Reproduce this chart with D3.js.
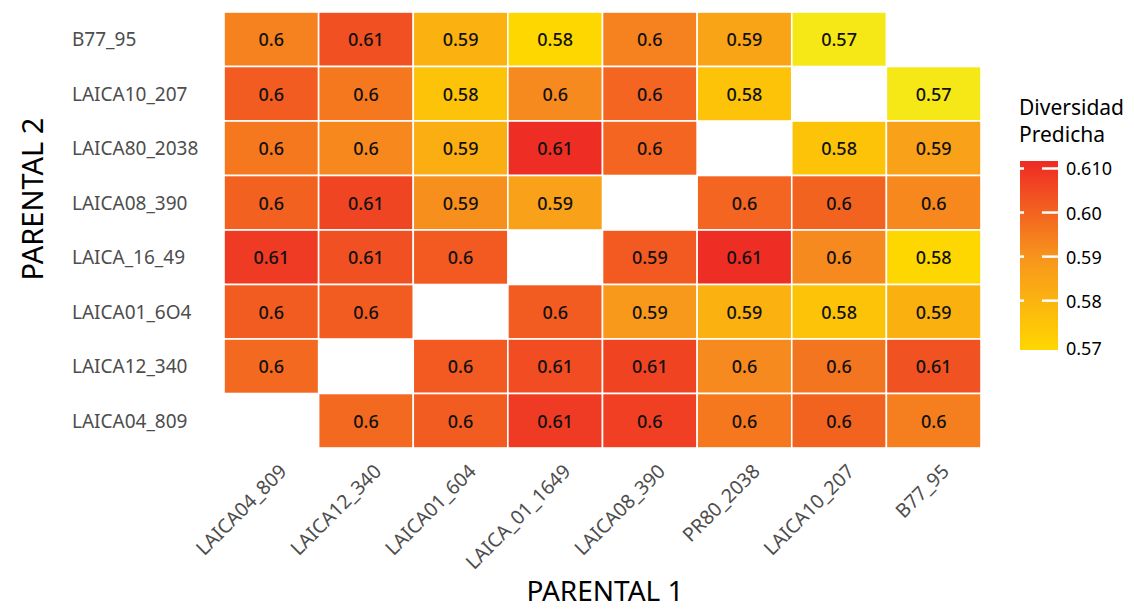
<!DOCTYPE html>
<html>
<head>
<meta charset="utf-8">
<script src="https://cdn.jsdelivr.net/npm/d3@7"></script>
<style>
  body { margin: 0; background: #fff; }
  svg { font-family: "Noto Sans", sans-serif; }
</style>
</head>
<body>
<svg id="chart" width="1134" height="609"></svg>
<script>
// rows (PARENTAL 2), top to bottom
const filas = ["B77_95", "LAICA10_207", "LAICA80_2038", "LAICA08_390",
  "LAICA_16_49", "LAICA01_6O4", "LAICA12_340", "LAICA04_809"];
// columns (PARENTAL 1), left to right
const columnas = ["LAICA04_809", "LAICA12_340", "LAICA01_604", "LAICA_01_1649",
  "LAICA08_390", "PR80_2038", "LAICA10_207", "B77_95"];

// printed labels, null = no tile
const etiquetas = [
  [0.6, 0.61, 0.59, 0.58, 0.6, 0.59, 0.57, null],
  [0.6, 0.6, 0.58, 0.6, 0.6, 0.58, null, 0.57],
  [0.6, 0.6, 0.59, 0.61, 0.6, null, 0.58, 0.59],
  [0.6, 0.61, 0.59, 0.59, null, 0.6, 0.6, 0.6],
  [0.61, 0.61, 0.6, null, 0.59, 0.61, 0.6, 0.58],
  [0.6, 0.6, null, 0.6, 0.59, 0.59, 0.58, 0.59],
  [0.6, null, 0.6, 0.61, 0.61, 0.6, 0.6, 0.61],
  [null, 0.6, 0.6, 0.61, 0.6, 0.6, 0.6, 0.6]
];

// fill values estimated from the tile colours
const relleno = [
  [0.5937, 0.6040, 0.5804, 0.5688, 0.5937, 0.5851, 0.5660, null],
  [0.6014, 0.5958, 0.5752, 0.5920, 0.5997, 0.5752, null, 0.5660],
  [0.5958, 0.5924, 0.5817, 0.6108, 0.5997, null, 0.5752, 0.5860],
  [0.6005, 0.6061, 0.5911, 0.5860, null, 0.5997, 0.6001, 0.5924],
  [0.6083, 0.6040, 0.6018, null, 0.6018, 0.6108, 0.5920, 0.5688],
  [0.6014, 0.6014, null, 0.6014, 0.5885, 0.5804, 0.5752, 0.5808],
  [0.5988, null, 0.6018, 0.6048, 0.6066, 0.5920, 0.5963, 0.6035],
  [null, 0.5988, 0.6014, 0.6083, 0.6074, 0.5958, 0.6001, 0.5945]
];

const limites = [0.5688, 0.6117];
const marcasLeyenda = [0.61, 0.60, 0.59, 0.58, 0.57];
const textosLeyenda = ["0.610", "0.60", "0.59", "0.58", "0.57"];

const svg = d3.select("#chart");

const x = d3.scaleBand().domain(columnas).range([224, 981]).padding(0);
const y = d3.scaleBand().domain(filas).range([12, 448]).padding(0);

const color = d3.scaleLinear()
  .domain([limites[0], 0.59, limites[1]])
  .range(["#FFD700", "#F7941D", "#EE2A24"])
  .interpolate(d3.interpolateRgb);
const naColor = "#F6E816"; // values under the lower limit

function fillFor(v) {
  return v < limites[0] ? naColor : color(v);
}

// flatten to tiles
const tiles = [];
filas.forEach((f, i) => {
  columnas.forEach((c, j) => {
    if (etiquetas[i][j] !== null) {
      tiles.push({ fila: f, col: c, label: etiquetas[i][j], v: relleno[i][j] });
    }
  });
});

const g = svg.append("g");

g.selectAll("rect.tile")
  .data(tiles)
  .enter().append("rect")
  .attr("class", "tile")
  .attr("x", d => x(d.col))
  .attr("y", d => y(d.fila))
  .attr("width", x.bandwidth())
  .attr("height", y.bandwidth())
  .style("fill", d => fillFor(d.v))
  .style("stroke", "#fff")
  .style("stroke-width", 1.6);

g.selectAll("text.val")
  .data(tiles)
  .enter().append("text")
  .attr("class", "val")
  .attr("x", d => x(d.col) + x.bandwidth() / 2)
  .attr("y", d => y(d.fila) + y.bandwidth() / 2)
  .attr("text-anchor", "middle")
  .attr("dominant-baseline", "central")
  .style("font-size", "18px")
  .style("font-weight", 500)
  .style("fill", "#111")
  .text(d => String(d.label));

// y labels, left aligned
svg.append("g").selectAll("text")
  .data(filas)
  .enter().append("text")
  .attr("x", 72)
  .attr("y", d => y(d) + y.bandwidth() / 2)
  .attr("dominant-baseline", "central")
  .style("font-size", "19px")
  .style("fill", "#4D4D4D")
  .text(d => d);

// x labels, rotated 45
svg.append("g").selectAll("text")
  .data(columnas)
  .enter().append("text")
  .attr("transform", d => `translate(${x(d) + x.bandwidth() / 2 + 7},${463}) rotate(-45)`)
  .attr("text-anchor", "end")
  .attr("dy", "0.7em")
  .style("font-size", "19.5px")
  .style("fill", "#4D4D4D")
  .text(d => d);

// axis titles
svg.append("text")
  .attr("x", 605).attr("y", 601)
  .attr("text-anchor", "middle")
  .style("font-size", "28px")
  .style("fill", "#000")
  .text("PARENTAL 1");

svg.append("text")
  .attr("transform", "translate(43,199) rotate(-90)")
  .attr("text-anchor", "middle")
  .style("font-size", "29px")
  .style("fill", "#000")
  .text("PARENTAL 2");

// legend
const yLeg = d3.scaleLinear().domain(limites).range([350, 161]);
const legX = 1020, legW = 38;

const defs = svg.append("defs");
const grad = defs.append("linearGradient")
  .attr("id", "leyenda")
  .attr("x1", 0).attr("y1", 1).attr("x2", 0).attr("y2", 0);
d3.range(0, 1.0001, 0.1).forEach(t => {
  grad.append("stop")
    .attr("offset", t)
    .attr("stop-color", color(limites[0] + t * (limites[1] - limites[0])));
});

const leg = svg.append("g");
leg.append("text").attr("x", 1019).attr("y", 115)
  .style("font-size", "21px").style("fill", "#000").text("Diversidad");
leg.append("text").attr("x", 1019).attr("y", 142)
  .style("font-size", "21px").style("fill", "#000").text("Predicha");

leg.append("rect")
  .attr("x", legX).attr("y", yLeg(limites[1]))
  .attr("width", legW).attr("height", yLeg(limites[0]) - yLeg(limites[1]))
  .style("fill", "url(#leyenda)");

const conMarca = marcasLeyenda.slice(0, 4);
leg.selectAll("line.l")
  .data(conMarca).enter().append("line")
  .attr("x1", legX).attr("x2", legX + 4)
  .attr("y1", d => yLeg(d)).attr("y2", d => yLeg(d))
  .style("stroke", "#fff").style("stroke-width", 2.5);
leg.selectAll("line.r")
  .data(conMarca).enter().append("line")
  .attr("x1", legX + 22).attr("x2", legX + legW)
  .attr("y1", d => yLeg(d)).attr("y2", d => yLeg(d))
  .style("stroke", "#fff").style("stroke-width", 2.5);

leg.selectAll("text.t")
  .data(marcasLeyenda).enter().append("text")
  .attr("x", 1066)
  .attr("y", (d, i) => i === marcasLeyenda.length - 1 ? yLeg(d) + 3 : yLeg(d))
  .attr("dominant-baseline", "central")
  .style("font-size", "18px")
  .style("fill", "#000")
  .text((d, i) => textosLeyenda[i]);
</script>
</body>
</html>
